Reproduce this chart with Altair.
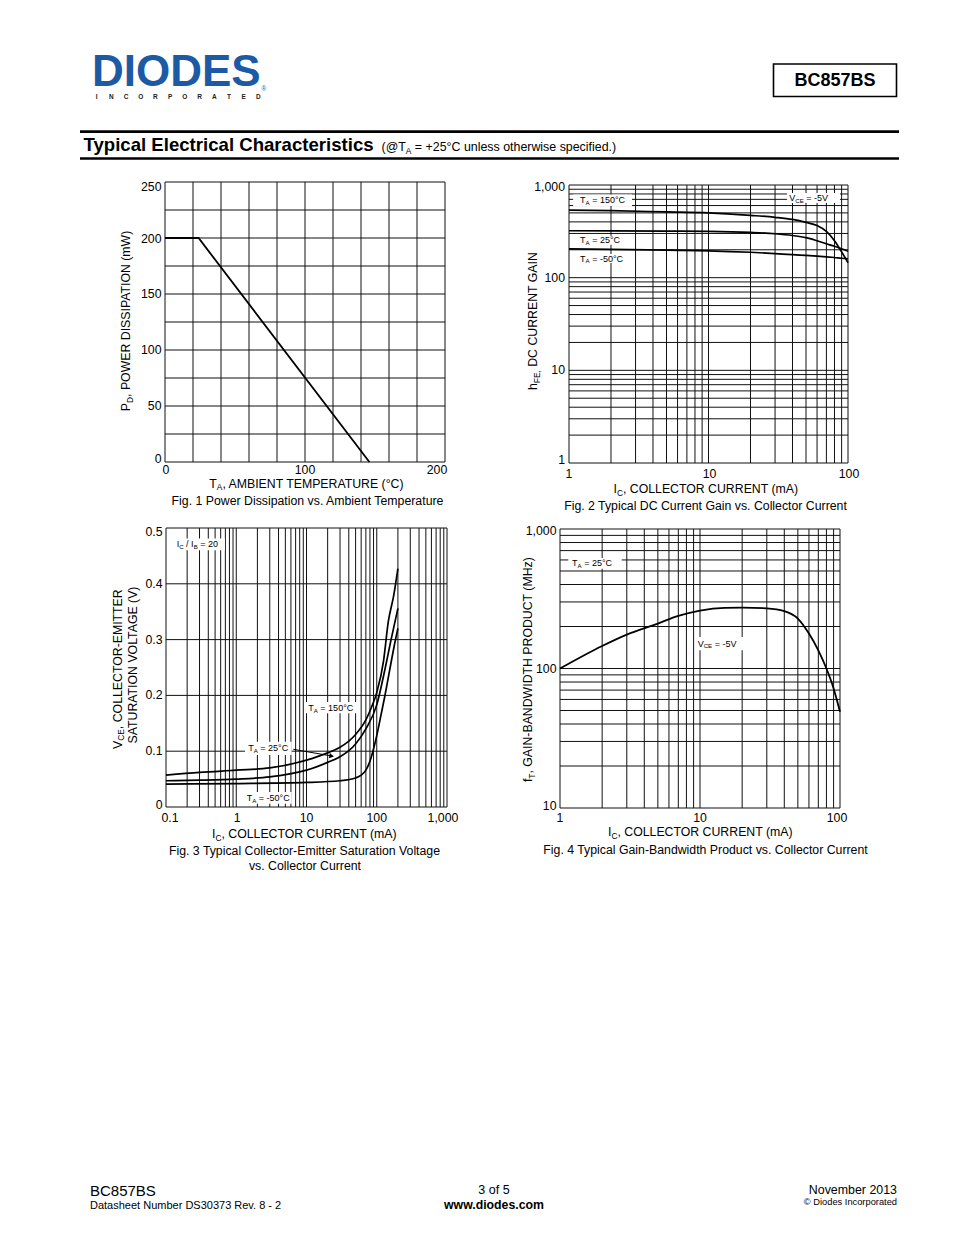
import altair as alt
import pandas as pd

# ---------------- Fig. 1 : Power dissipation ----------------
F1_TA = [0, 24, 146]
F1_PD = [200, 200, 0]
F1_XGRID = [0, 20, 40, 60, 80, 100, 120, 140, 160, 180, 200]
F1_YGRID = [0, 25, 50, 75, 100, 125, 150, 175, 200, 225, 250]
F1_XTICKS = [0, 100, 200]
F1_XLABELS = ["0", "100", "200"]
F1_YTICKS = [0, 50, 100, 150, 200, 250]
F1_YLABELS = ["0", "50", "100", "150", "200", "250"]

# ---------------- Fig. 2 : DC current gain ----------------
F2_IC = [1, 2, 5, 10, 20, 30, 40, 50, 60, 70, 80, 90, 100]
F2_H150 = [535, 528, 512, 500, 470, 448, 425, 395, 365, 315, 250, 190, 145]
F2_H25 = [321, 320, 318, 316, 308, 298, 285, 270, 250, 232, 218, 205, 193]
F2_HM50 = [204, 202, 198, 195, 188, 182, 177, 174, 171, 168, 165, 162, 160]
F2_XGRID = [1, 2, 3, 4, 5, 6, 7, 8, 9, 10, 20, 30, 40, 50, 60, 70, 80, 90, 100]
F2_YGRID = [1, 2, 3, 4, 5, 6, 7, 8, 9, 10, 20, 30, 40, 50, 60, 70, 80, 90,
            100, 200, 300, 400, 500, 600, 700, 800, 900, 1000]
F2_XTICKS = [1, 10, 100]
F2_XLABELS = ["1", "10", "100"]
F2_YTICKS = [1, 10, 100, 1000]
F2_YLABELS = ["1", "10", "100", "1,000"]

# ---------------- Fig. 3 : VCE(sat) ----------------
F3_IC_150 = [0.1, 0.3, 1, 3, 10, 20, 30, 50, 70, 85, 100, 125, 146, 175, 200]
F3_V_150 = [0.057, 0.062, 0.066, 0.070, 0.084, 0.097, 0.107, 0.130, 0.156, 0.180,
            0.205, 0.262, 0.332, 0.380, 0.427]
F3_IC_25 = [0.1, 0.3, 1, 3, 10, 20, 30, 50, 70, 100, 130, 160, 200]
F3_V_25 = [0.047, 0.048, 0.050, 0.054, 0.066, 0.080, 0.090, 0.113, 0.140, 0.183,
           0.245, 0.300, 0.356]
F3_IC_M50 = [0.1, 1, 10, 30, 50, 60, 70, 80, 90, 100, 115, 130, 150, 175, 200]
F3_V_M50 = [0.041, 0.042, 0.044, 0.047, 0.052, 0.057, 0.066, 0.082, 0.104, 0.128,
            0.165, 0.198, 0.240, 0.285, 0.320]
F3_ARROW_IC = [6.5, 22.8]
F3_ARROW_V = [0.1034, 0.0914]
F3_XGRID = [0.1, 0.2, 0.3, 0.4, 0.5, 0.6, 0.7, 0.8, 0.9,
            1, 2, 3, 4, 5, 6, 7, 8, 9,
            10, 20, 30, 40, 50, 60, 70, 80, 90,
            100, 200, 300, 400, 500, 600, 700, 800, 900, 1000]
F3_YGRID = [0, 0.1, 0.2, 0.3, 0.4, 0.5]
F3_XTICKS = [0.1, 1, 10, 100, 1000]
F3_XLABELS = ["0.1", "1", "10", "100", "1,000"]
F3_YTICKS = [0, 0.1, 0.2, 0.3, 0.4, 0.5]
F3_YLABELS = ["0", "0.1", "0.2", "0.3", "0.4", "0.5"]

# ---------------- Fig. 4 : fT ----------------
F4_IC = [1, 2, 3, 5, 7, 10, 15, 20, 30, 40, 50, 60, 70, 80, 90, 100]
F4_FT = [100, 145, 175, 210, 238, 260, 272, 273, 270, 258, 228, 178, 135, 100, 72, 49]
F4_XGRID = [1, 2, 3, 4, 5, 6, 7, 8, 9, 10, 20, 30, 40, 50, 60, 70, 80, 90, 100]
F4_YGRID = [10, 20, 30, 40, 50, 60, 70, 80, 90, 100, 200, 300, 400, 500, 600, 700,
            800, 900, 1000]
F4_XTICKS = [1, 10, 100]
F4_XLABELS = ["1", "10", "100"]
F4_YTICKS = [10, 100, 1000]
F4_YLABELS = ["10", "100", "1,000"]

LOGO_LETTERS = list("INCORPORATED")

# ---------------- helpers ----------------
FONT = "Liberation Sans"
M = 8  # page margin
ONE = pd.DataFrame({"k": [0]})
GRID = "#111111"
SUBR = 0.68

_W = {' ': 278, '!': 278, '(': 333, ')': 333, ',': 278, '-': 333, '.': 278, '/': 278,
      ':': 278, '=': 584, '+': 584, '@': 1015, '°': 400, '©': 737}
for _c in "0123456789":
    _W[_c] = 556
_W.update(dict(A=667, B=667, C=722, D=722, E=667, F=611, G=778, H=722, I=278, J=500,
               K=667, L=556, M=833, N=722, O=778, P=667, Q=778, R=722, S=667, T=611,
               U=722, V=667, W=944, X=667, Y=667, Z=611))
_W.update(dict(a=556, b=556, c=500, d=556, e=556, f=278, g=556, h=556, i=222, j=222,
               k=500, l=222, m=833, n=556, o=556, p=556, q=556, r=333, s=500, t=278,
               u=556, v=500, w=722, x=500, y=500, z=500))


def tw(s):
    return sum(_W.get(c, 556) for c in s) / 1000.0


def split_lead(t):
    s = t.lstrip(" ")
    return len(t) - len(s), s


def sc(domain, lo, hi, log=False):
    if log:
        return alt.Scale(type="log", domain=domain, range=[lo - M, hi - M], nice=False)
    return alt.Scale(type="linear", domain=domain, range=[lo - M, hi - M], nice=False, zero=False)


def text_at(t, x, y, size=12.3, weight="normal", align="left", baseline="middle",
            color="black", angle=None, font=FONT):
    kw = dict(text=t, fontSize=size, fontWeight=weight, align=align, baseline=baseline,
              color=color, font=font)
    if angle is not None:
        kw["angle"] = angle
    return alt.Chart(ONE).mark_text(**kw).encode(x=alt.value(x - M), y=alt.value(y - M))


def _segments(segs, size):
    """Return (text, fontsize, dx, dy) parts; leading spaces become offsets."""
    out = []
    off = 0.0
    for t, s in segs:
        fs = size * (SUBR if s else 1.0)
        n, body = split_lead(t)
        off += n * 0.278 * fs
        out.append((body, fs, off, size * 0.32 if s else 0))
        off += tw(body) * fs
    return out, off


def rich_page(segs, x, y, size=12.3, angle=None, align="center", baseline="middle"):
    parts, total = _segments(segs, size)
    shift = -total / 2.0 if align == "center" else 0.0
    out = []
    for body, fs, dx, dy in parts:
        kw = dict(text=body, fontSize=fs, align="left", baseline=baseline, font=FONT,
                  color="black", dx=dx + shift, dy=dy)
        if angle is not None:
            kw["angle"] = angle
        out.append(alt.Chart(ONE).mark_text(**kw).encode(x=alt.value(x - M), y=alt.value(y - M)))
    return out


def rich_data(segs, xv, yv, xs, ys, size=9):
    df = pd.DataFrame({"x": [xv], "y": [yv]})
    parts, _ = _segments(segs, size)
    out = []
    for body, fs, dx, dy in parts:
        out.append(alt.Chart(df).mark_text(text=body, fontSize=fs, align="left", baseline="middle",
                                           font=FONT, color="black", dx=dx, dy=dy).encode(
            x=alt.X("x:Q", scale=xs, axis=None), y=alt.Y("y:Q", scale=ys, axis=None)))
    return out


def box(x1, x2, y1, y2, xs, ys):
    df = pd.DataFrame({"x": [x1], "x2": [x2], "y": [y1], "y2": [y2]})
    return alt.Chart(df).mark_rect(color="white").encode(
        x=alt.X("x:Q", scale=xs, axis=None), x2="x2:Q",
        y=alt.Y("y:Q", scale=ys, axis=None), y2="y2:Q")


def vgrid(vals, xs, top, bottom):
    return alt.Chart(pd.DataFrame({"v": vals})).mark_rule(color=GRID, strokeWidth=1).encode(
        x=alt.X("v:Q", scale=xs, axis=None), y=alt.value(top - M), y2=alt.value(bottom - M))


def hgrid(vals, ys, left, right):
    return alt.Chart(pd.DataFrame({"v": vals})).mark_rule(color=GRID, strokeWidth=1).encode(
        y=alt.Y("v:Q", scale=ys, axis=None), x=alt.value(left - M), x2=alt.value(right - M))


def curve(xv, yv, xs, ys, interp="monotone", sw=1.7):
    df = pd.DataFrame({"x": xv, "y": yv})
    return alt.Chart(df).mark_line(color="black", strokeWidth=sw, interpolate=interp).encode(
        x=alt.X("x:Q", scale=xs, axis=None), y=alt.Y("y:Q", scale=ys, axis=None))


def xlabels(vals, labels, xs, y, dxs=None):
    out = []
    for i, (v, lab) in enumerate(zip(vals, labels)):
        dx = dxs[i] if dxs else 0
        df = pd.DataFrame({"v": [v], "t": [lab]})
        out.append(alt.Chart(df).mark_text(fontSize=12.3, font=FONT, align="center",
                                           baseline="middle", dx=dx, color="black").encode(
            x=alt.X("v:Q", scale=xs, axis=None), y=alt.value(y - M), text="t:N"))
    return out


def ylabels(vals, labels, ys, right, dys=None):
    out = []
    for i, (v, lab) in enumerate(zip(vals, labels)):
        dy = dys[i] if dys else 0
        df = pd.DataFrame({"v": [v], "t": [lab]})
        out.append(alt.Chart(df).mark_text(fontSize=12.3, font=FONT, align="right",
                                           baseline="middle", dy=dy, color="black").encode(
            y=alt.Y("v:Q", scale=ys, axis=None), x=alt.value(right - M), text="t:N"))
    return out


layers = []

# ---------------- header ----------------
layers.append(text_at("DIODES", 92, 85.5, size=44, weight="bold", baseline="alphabetic",
                      color="#1d5aa6"))
letters = pd.DataFrame({"i": list(range(len(LOGO_LETTERS))), "t": LOGO_LETTERS})
layers.append(alt.Chart(letters).mark_text(fontSize=6.5, fontWeight="bold", font=FONT,
                                           align="center", baseline="middle", color="#222222").encode(
    x=alt.X("i:Q", scale=alt.Scale(domain=[0, 11], range=[96.7 - M, 258.3 - M], nice=False,
                                   zero=False), axis=None),
    y=alt.value(97 - M), text="t:N"))
layers.append(text_at("®", 264, 89, size=6.5, align="center", color="#1d5aa6"))
layers.append(alt.Chart(ONE).mark_rect(fillOpacity=0, stroke="black", strokeWidth=1.6).encode(
    x=alt.value(773.5 - M), x2=alt.value(896.5 - M), y=alt.value(64 - M), y2=alt.value(96.5 - M)))
layers.append(text_at("BC857BS", 835, 80.5, size=18, weight="bold", align="center"))
for yy in (131.7, 158.5):
    layers.append(alt.Chart(ONE).mark_rule(color="black", strokeWidth=2.7).encode(
        x=alt.value(80 - M), x2=alt.value(899 - M), y=alt.value(yy - M)))
layers.append(text_at("Typical Electrical Characteristics", 83.5, 150.5, size=18.6,
                      weight="bold", baseline="alphabetic"))
layers += rich_page([("(@T", 0), ("A", 1), (" = +25°C unless otherwise specified.)", 0)],
                    381.5, 150.5, size=12.4, align="left", baseline="alphabetic")

# ---------------- Fig. 1 ----------------
L1, R1, T1, B1 = 165, 445, 182, 462
xs1 = sc([0, 200], L1, R1)
ys1 = sc([0, 250], B1, T1)
layers.append(vgrid(F1_XGRID, xs1, T1, B1))
layers.append(hgrid(F1_YGRID, ys1, L1, R1))
layers.append(curve(F1_TA, F1_PD, xs1, ys1, interp="linear", sw=1.8))
layers += xlabels(F1_XTICKS, F1_XLABELS, xs1, 470, dxs=[1, 0, -8])
layers += ylabels(F1_YTICKS, F1_YLABELS, ys1, 161.5, dys=[-3, 0, 0, 0, 1, 5])
layers += rich_page([("T", 0), ("A", 1), (", AMBIENT TEMPERATURE (°C)", 0)], 307.5, 483.5)
layers += rich_page([("P", 0), ("D", 1), (", POWER DISSIPATION (mW)", 0)], 126, 320, angle=270)
layers.append(text_at("Fig. 1 Power Dissipation vs. Ambient Temperature", 307.5, 500.5,
                      align="center"))

# ---------------- Fig. 2 ----------------
L2, R2, T2, B2 = 569, 848, 185, 463
xs2 = sc([1, 100], L2, R2, log=True)
ys2 = sc([1, 1000], B2, T2, log=True)
layers.append(vgrid(F2_XGRID, xs2, T2, B2))
layers.append(hgrid(F2_YGRID, ys2, L2, R2))
layers.append(box(1.07, 2.83, 593, 790, xs2, ys2))
layers.append(box(36.5, 87.7, 639, 820, xs2, ys2))
layers.append(box(1.14, 2.3, 226, 282, xs2, ys2))
layers.append(box(1.14, 2.45, 144, 180, xs2, ys2))
for hv in (F2_H150, F2_H25, F2_HM50):
    layers.append(curve(F2_IC, hv, xs2, ys2))
layers += rich_data([("T", 0), ("A", 1), (" = 150°C", 0)], 1.2, 689, xs2, ys2)
layers += rich_data([("V", 0), ("CE", 1), (" = -5V", 0)], 37.9, 724, xs2, ys2)
layers += rich_data([("T", 0), ("A", 1), (" = 25°C", 0)], 1.2, 253, xs2, ys2)
layers += rich_data([("T", 0), ("A", 1), (" = -50°C", 0)], 1.2, 161, xs2, ys2)
layers += xlabels(F2_XTICKS, F2_XLABELS, xs2, 474, dxs=[0, 1, 1])
layers += ylabels(F2_YTICKS, F2_YLABELS, ys2, 565, dys=[-3, 0, 0, 2])
layers += rich_page([("I", 0), ("C", 1), (", COLLECTOR CURRENT (mA)", 0)], 706, 489)
layers += rich_page([("h", 0), ("FE,", 1), (" DC CURRENT GAIN", 0)], 533, 321, angle=270)
layers.append(text_at("Fig. 2 Typical DC Current Gain vs. Collector Current", 705.5, 505.5,
                      align="center"))

# ---------------- Fig. 3 ----------------
L3, R3, T3, B3 = 166, 447, 528, 807
xs3 = sc([0.1, 1000], L3, R3, log=True)
ys3 = sc([0, 0.5], B3, T3)
layers.append(vgrid(F3_XGRID, xs3, T3, B3))
layers.append(hgrid(F3_YGRID, ys3, L3, R3))
layers.append(box(0.127, 0.69, 0.460, 0.481, xs3, ys3))
layers.append(box(9.5, 54.6, 0.168, 0.188, xs3, ys3))
layers.append(box(1.33, 6.15, 0.093, 0.117, xs3, ys3))
layers.append(box(1.26, 6.15, 0.006, 0.027, xs3, ys3))
layers.append(curve(F3_IC_150, F3_V_150, xs3, ys3))
layers.append(curve(F3_IC_25, F3_V_25, xs3, ys3))
layers.append(curve(F3_IC_M50, F3_V_M50, xs3, ys3))
layers.append(curve(F3_ARROW_IC, F3_ARROW_V, xs3, ys3, interp="linear", sw=1))
layers.append(alt.Chart(pd.DataFrame({"x": [F3_ARROW_IC[1]], "y": [F3_ARROW_V[1]]})).mark_point(
    shape="triangle-right", filled=True, size=30, angle=10, color="black", opacity=1).encode(
    x=alt.X("x:Q", scale=xs3, axis=None), y=alt.Y("y:Q", scale=ys3, axis=None)))
layers += rich_data([("I", 0), ("C", 1), (" / I", 0), ("B", 1), (" = 20", 0)], 0.142, 0.471,
                    xs3, ys3)
layers += rich_data([("T", 0), ("A", 1), (" = 150°C", 0)], 10.6, 0.178, xs3, ys3)
layers += rich_data([("T", 0), ("A", 1), (" = 25°C", 0)], 1.48, 0.1057, xs3, ys3)
layers += rich_data([("T", 0), ("A", 1), (" = -50°C", 0)], 1.41, 0.0161, xs3, ys3)
layers += xlabels(F3_XTICKS, F3_XLABELS, xs3, 818, dxs=[4, 1, 0, 0, -4])
layers += ylabels(F3_YTICKS, F3_YLABELS, ys3, 162.5, dys=[-2, 0, 0, 0, 0, 4])
layers += rich_page([("I", 0), ("C", 1), (", COLLECTOR CURRENT (mA)", 0)], 304.5, 834)
layers += rich_page([("V", 0), ("CE", 1), (", COLLECTOR-EMITTER", 0)], 117.5, 669, angle=270)
layers.append(text_at("SATURATION VOLTAGE (V)", 133, 665, align="center", angle=270))
layers.append(text_at("Fig. 3 Typical Collector-Emitter Saturation Voltage", 304.5, 851,
                      align="center"))
layers.append(text_at("vs. Collector Current", 305, 865.5, align="center"))

# ---------------- Fig. 4 ----------------
L4, R4, T4, B4 = 560, 840, 529, 808
xs4 = sc([1, 100], L4, R4, log=True)
ys4 = sc([10, 1000], B4, T4, log=True)
layers.append(vgrid(F4_XGRID, xs4, T4, B4))
layers.append(hgrid(F4_YGRID, ys4, L4, R4))
layers.append(box(1.146, 2.76, 519, 620, xs4, ys4))
layers.append(box(9.2, 20.4, 135, 168, xs4, ys4))
layers.append(curve(F4_IC, F4_FT, xs4, ys4, sw=1.8))
layers += rich_data([("T", 0), ("A", 1), (" = 25°C", 0)], 1.22, 570, xs4, ys4)
layers += rich_data([("V", 0), ("CE", 1), (" = -5V", 0)], 9.63, 151, xs4, ys4)
layers += xlabels(F4_XTICKS, F4_XLABELS, xs4, 818, dxs=[0, 0, -3])
layers += ylabels(F4_YTICKS, F4_YLABELS, ys4, 556.5, dys=[-2, 0, 2])
layers += rich_page([("I", 0), ("C", 1), (", COLLECTOR CURRENT (mA)", 0)], 700.5, 832)
layers += rich_page([("f", 0), ("T", 1), (", GAIN-BANDWIDTH PRODUCT (MHz)", 0)], 528, 669.5,
                    angle=270)
layers.append(text_at("Fig. 4 Typical Gain-Bandwidth Product vs. Collector Current", 705.5, 849.5,
                      align="center"))

# ---------------- footer ----------------
layers.append(text_at("BC857BS", 90, 1190.5, size=15))
layers.append(text_at("Datasheet Number DS30373 Rev. 8 - 2", 90, 1206, size=11))
layers.append(text_at("3 of 5", 494, 1189.5, size=12.5, align="center"))
layers.append(text_at("www.diodes.com", 494, 1204.5, size=12.3, weight="bold", align="center"))
layers.append(text_at("November 2013", 897, 1189.5, size=12.4, align="right"))
layers.append(text_at("© Diodes Incorporated", 897, 1201.5, size=9.3, align="right"))

chart = alt.layer(*layers).resolve_scale(x="independent", y="independent").properties(
    width=938, height=1219, padding=0, background="white",
    autosize=alt.AutoSizeParams(type="none")
).configure_view(strokeWidth=0)

chart.save("out.html", embed_options={"renderer": "svg", "actions": False})
